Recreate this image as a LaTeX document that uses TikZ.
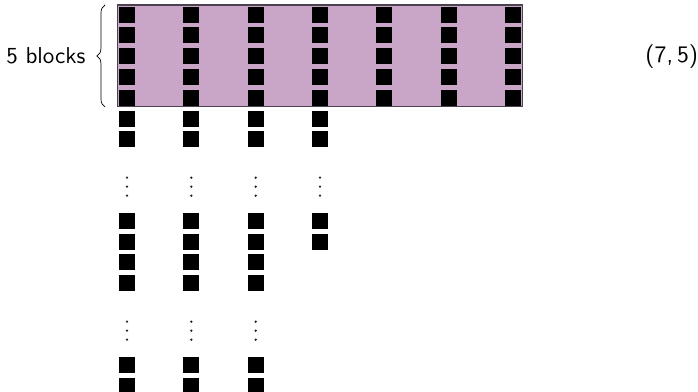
\documentclass[tikz,border=0pt]{standalone}
\usetikzlibrary{decorations.pathreplacing}
\definecolor{lilac}{RGB}{201,165,199}
\definecolor{rim}{RGB}{75,65,80}
\tikzset{
  x=0.422pt, y=-0.422pt,
  blk/.style={fill=black, draw=none, minimum size=16*0.422pt, inner sep=0pt, outer sep=0pt},
  dotc/.style={fill=black!85, draw=none, circle, minimum size=2.6*0.422pt, inner sep=0pt},
  lbl/.style={font=\sffamily, inner sep=0pt},
}
\begin{document}
\begin{tikzpicture}
\useasboundingbox (0,0) rectangle (698,392);
\clip (0,0) rectangle (698,392);
% purple band
\node[fill=lilac, draw=rim, line width=0.65pt, inner sep=0pt, outer sep=0pt,
      minimum width=405*0.422pt, minimum height=101.5*0.422pt] (band) at (319.8,55.8) {};
% top five rows, seven columns
\foreach \i in {0,...,6}{
  \foreach \k in {0,...,4}{
    \node[blk] (b-\i-\k) at ({127+64.33*\i},{14.7+20.8*\k}) {};
  }
}
% rows below band, columns 1-4
\foreach \i in {0,...,3}{
  \foreach \k in {5,6}{
    \node[blk] (b-\i-\k) at ({127+64.33*\i},{14.7+20.8*\k}) {};
  }
  \foreach \y [count=\n] in {177.7,186.7,195.7}{
    \node[dotc] (d-\i-\n) at ({127+64.33*\i},\y) {};
  }
  \node[blk] (c-\i-1) at ({127+64.33*\i},221.3) {};
  \node[blk] (c-\i-2) at ({127+64.33*\i},242) {};
}
% columns 1-3 continue
\foreach \i in {0,...,2}{
  \node[blk] (c-\i-3) at ({127+64.33*\i},262.3) {};
  \node[blk] (c-\i-4) at ({127+64.33*\i},283) {};
  \foreach \y [count=\n] in {321.7,330.7,339.7}{
    \node[dotc] (e-\i-\n) at ({127+64.33*\i},\y) {};
  }
  \node[blk] (c-\i-5) at ({127+64.33*\i},365) {};
  \node[blk] (c-\i-6) at ({127+64.33*\i},386) {};
}
% brace and labels
\coordinate (bb) at (105,107);
\coordinate (bt) at (105,5);
\draw[line width=0.3pt, decorate, decoration={brace, amplitude=3.4pt}] (bb) -- (bt);
\node[lbl, anchor=base west, scale=0.97] (nb) at (6,64) {5 blocks};
\node[lbl, anchor=base west] (sz) at (645,63) {\textsf{(7,\,5)}};
\end{tikzpicture}
\end{document}
